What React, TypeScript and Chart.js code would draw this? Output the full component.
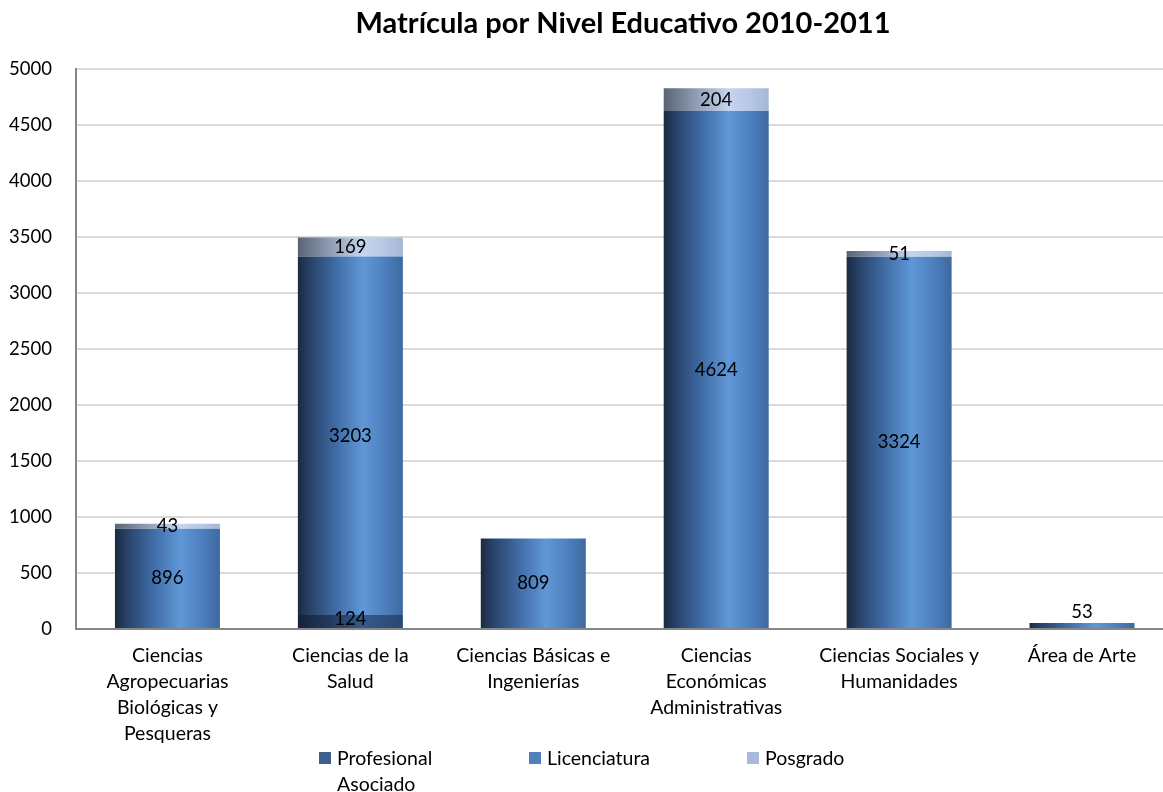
import React, { useEffect, useRef } from "react";
import { Chart, registerables } from "chart.js";

Chart.register(...registerables);

const TITLE = "Matrícula por Nivel Educativo 2010-2011";
const categories: string[][] = [
  ["Ciencias", "Agropecuarias", "Biológicas y", "Pesqueras"],
  ["Ciencias de la", "Salud"],
  ["Ciencias Básicas e", "Ingenierías"],
  ["Ciencias", "Económicas", "Administrativas"],
  ["Ciencias Sociales y", "Humanidades"],
  ["Área de Arte"],
];
const profesionalAsociado = [0, 124, 0, 0, 0, 0];
const licenciatura = [896, 3203, 809, 4624, 3324, 53];
const posgrado = [43, 169, 0, 204, 51, 0];
const yTicks = { min: 0, max: 5000, step: 500 };

const FONT = "Lato, 'Open Sans', sans-serif";
const CAT_PCT = 0.574;

const STOPS_PA: [number, string][] = [
  [0, "#15223a"], [0.3, "#22395c"], [0.62, "#36598a"], [0.85, "#2f4f7b"], [1, "#2a476f"],
];
const STOPS_LIC: [number, string][] = [
  [0, "#1b2a41"], [0.12, "#29436a"], [0.35, "#3e6aa3"], [0.62, "#6097d7"], [0.85, "#4b7dbb"], [1, "#3e699f"],
];
const STOPS_POS: [number, string][] = [
  [0, "#5a6373"], [0.3, "#8e9cb2"], [0.62, "#c6d5ef"], [0.85, "#b4c5e3"], [1, "#a6b7d6"],
];
const LEGEND = [
  { lines: ["Profesional", "Asociado"], color: "#3c5f8f" },
  { lines: ["Licenciatura"], color: "#4f81bd" },
  { lines: ["Posgrado"], color: "#a7b9dc" },
];

function gradFill(stops: [number, string][], flat: string) {
  return (c: any) => {
    const chart = c.chart;
    if (!chart.chartArea || c.dataIndex === undefined) return flat;
    const xs = chart.scales.x;
    const cx = xs.getPixelForValue(c.dataIndex);
    const w = (xs.width / categories.length) * CAT_PCT;
    const g = chart.ctx.createLinearGradient(cx - w / 2, 0, cx + w / 2, 0);
    stops.forEach(([o, col]) => g.addColorStop(o, col));
    return g;
  };
}

const labelPlugin = {
  id: "segLabels",
  afterDatasetsDraw(chart: any) {
    const ctx = chart.ctx;
    const bottom = chart.chartArea.bottom;
    ctx.save();
    ctx.font = `18.5px ${FONT}`;
    ctx.fillStyle = "#000";
    ctx.textAlign = "center";
    ctx.textBaseline = "middle";
    chart.data.datasets.forEach((ds: any, di: number) => {
      const meta = chart.getDatasetMeta(di);
      meta.data.forEach((bar: any, i: number) => {
        const v = ds.data[i];
        if (!v) return;
        const { x, y, base } = bar.getProps(["x", "y", "base"], true);
        const h = base - y;
        let cy = (y + base) / 2;
        if (h < 8 && base >= bottom - 1) cy = y - 11;
        else cy = Math.min(cy, bottom - 10);
        ctx.fillText(String(v), x, cy);
      });
    });
    ctx.restore();
  },
  afterDraw(chart: any) {
    const ctx = chart.ctx;
    ctx.save();
    ctx.fillStyle = "#000";
    ctx.font = `bold 29px ${FONT}`;
    ctx.textAlign = "center";
    ctx.textBaseline = "alphabetic";
    ctx.fillText(TITLE, 623, 33);
    // legend
    const xs = [319, 529, 747];
    ctx.font = `19.5px ${FONT}`;
    ctx.textAlign = "left";
    ctx.textBaseline = "middle";
    LEGEND.forEach((it, k) => {
      ctx.fillStyle = it.color;
      ctx.fillRect(xs[k], 752, 12, 12);
      ctx.fillStyle = "#000";
      it.lines.forEach((ln, j) => ctx.fillText(ln, xs[k] + 18, 759 + j * 26));
    });
    ctx.restore();
  },
};

export default function App() {
  const ref = useRef<HTMLCanvasElement>(null);
  useEffect(() => {
    if (!ref.current) return;
    const chart = new Chart(ref.current, {
      type: "bar",
      data: {
        labels: categories,
        datasets: [
          { label: "Profesional Asociado", data: profesionalAsociado, backgroundColor: gradFill(STOPS_PA, "#3c5f8f") },
          { label: "Licenciatura", data: licenciatura, backgroundColor: gradFill(STOPS_LIC, "#4f81bd") },
          { label: "Posgrado", data: posgrado, backgroundColor: gradFill(STOPS_POS, "#a7b9dc") },
        ],
      },
      options: {
        responsive: false,
        animation: false,
        devicePixelRatio: 1,
        layout: { padding: { top: 69, right: 66.5, bottom: 45, left: 0 } },
        datasets: { bar: { barPercentage: 1, categoryPercentage: CAT_PCT, borderWidth: 0 } },
        plugins: { legend: { display: false }, title: { display: false }, tooltip: { enabled: false } },
        scales: {
          x: {
            stacked: true,
            grid: { display: false, drawTicks: false },
            border: { color: "#868686", width: 2 },
            ticks: { color: "#000", padding: 14, maxRotation: 0, autoSkip: false, font: { family: FONT, size: 19.5, lineHeight: "26px" } },
            afterFit: (s: any) => { s.height = 118; },
          },
          y: {
            stacked: true,
            min: yTicks.min,
            max: yTicks.max,
            ticks: {
              stepSize: yTicks.step,
              color: "#000",
              padding: 24,
              font: { family: FONT, size: 18.5 },
              callback: (v: any) => String(v),
            },
            grid: { color: "#d9d9d9", lineWidth: 2, drawTicks: false },
            border: { color: "#868686", width: 2 },
            afterFit: (s: any) => { s.width = 76; },
          },
        },
      },
      plugins: [labelPlugin],
    });
    return () => chart.destroy();
  }, []);
  return (
    <div style={{ position: "absolute", left: 0, top: 0, width: 1163, height: 792, overflow: "hidden", background: "#fff" }}>
      <canvas ref={ref} width={1240} height={792} style={{ display: "block" }} />
    </div>
  );
}
